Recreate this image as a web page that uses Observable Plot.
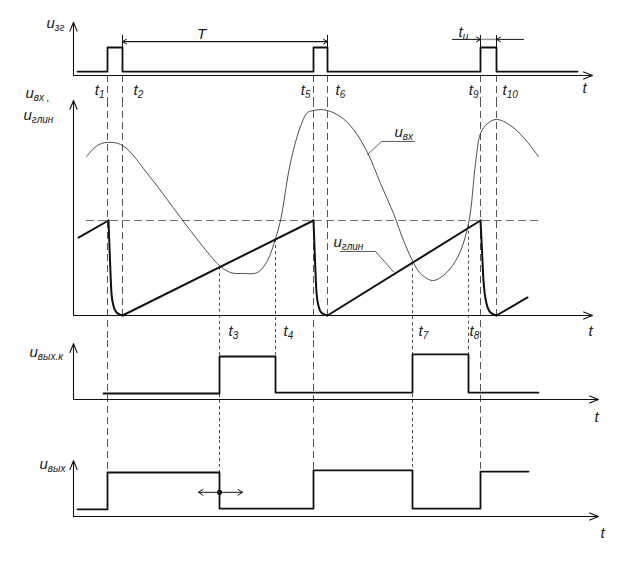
<!DOCTYPE html>
<html><head><meta charset="utf-8">
<script src="https://cdn.jsdelivr.net/npm/d3@7"></script>
<script src="https://cdn.jsdelivr.net/npm/@observablehq/plot@0.6"></script>
<style>
body{margin:0;background:#fff;}
#chart{width:643px;}
#chart svg{display:block;overflow:visible;}
</style></head><body><div id="chart"></div>
<script>
// ---------- data (time in arbitrary units, voltages in panel units) ----------
const eventNames = ["t1","t2","t3","t4","t5","t6","t7","t8","t9","t10"];
const eventTimes = [34, 49, 146, 202, 240, 254, 339, 395, 407, 423];

// u_зг : clock pulses
const zgTimes  = [4, 34, 49, 240, 254, 407, 423, 504];
const zgLevels = [0.14, 1, 0.14, 1, 0.14, 1, 0.14, 0.14];

// u_вх : input signal
const uvxTimes  = [13,24,34,49,77,107,127,146,157,170,184,194,202,207,217,227,234,240,247,254,267,280,294,307,320,330,339,347,359,370,384,395,402,407,414,423,437,450,465];
const uvxLevels = [8.37,8.95,9.11,8.95,7.26,5.16,3.79,2.63,2.26,2.21,2.26,2.89,4.05,5.0,8.05,9.95,10.68,10.79,10.84,10.79,10.47,9.79,8.58,6.95,5.37,3.95,2.89,2.21,1.84,2.11,3.05,4.84,8.0,9.58,10.1,10.32,10.0,9.37,8.37];

// u_глин : sawtooth (linear ramps) and its fast flyback segments
const rampSegTimes  = [[5,35],[49,240],[254,407],[423,454]];
const rampSegLevels = [[4.1,5],[0,5],[0,5],[0,0.95]];
const dropTimes  = [[35,36.5,38,40,43,49],[240,241.5,243,245,248,254],[407,408.5,410,413,417,423]];
const dropLevels = [[5,2.9,1.16,0.5,0.16,0],[5,2.9,1.2,0.5,0.15,0],[5,3.4,1.84,0.63,0.16,0]];
const threshold = 5;

// u_вых.к : comparator output
const kTimes  = [30, 146, 202, 339, 395, 465];
const kLevels = [0.14, 1, 0.16, 1.05, 0.16, 0.16];

// u_вых : output
const oTimes  = [4, 34, 146, 240, 339, 407, 455];
const oLevels = [0.16, 1, 0.18, 1.05, 0.18, 1.02, 1.02];

// ---------- layout ----------
const FONT = "Liberation Sans, Arial, sans-serif";
const X = {domain: [0, 570], range: [73, 643]};
const panels = [
  {height: 100, y: {domain: [0, 1], range: [75, 47]}},
  {height: 240, y: {domain: [0, 5], range: [215, 120]}},
  {height: 100, y: {domain: [0, 1], range: [59, 16]}},
  {height: 127, y: {domain: [0, 1], range: [76, 32]}}
];
const T = Object.fromEntries(eventNames.map((n, i) => [n, eventTimes[i]]));

// vertical guide lines: which panel/level they start and end at
const lineSpans = [
  {name: "t1", from: [0, 0], to: [3, 1.0], kind: "long"},
  {name: "t2", from: [0, 0], to: [1, 0], kind: "long"},
  {name: "t3", from: [1, 2.54], to: [3, 1.0], kind: "short"},
  {name: "t4", from: [1, 4.0], to: [2, 1.0], kind: "short"},
  {name: "t5", from: [0, 0], to: [3, 1.05], kind: "long"},
  {name: "t6", from: [0, 0], to: [1, 0], kind: "long"},
  {name: "t7", from: [1, 2.78], to: [3, 1.05], kind: "short"},
  {name: "t8", from: [1, 4.75], to: [2, 1.05], kind: "short"},
  {name: "t9", from: [0, 0], to: [3, 1.02], kind: "long"},
  {name: "t10", from: [0, 0], to: [1, 0], kind: "long"}
];

function spanMarks(i) {
  const sc = d3.scaleLinear(panels[i].y.domain, panels[i].y.range);
  const top = sc.invert(0), bot = sc.invert(panels[i].height);
  const rows = [];
  for (const s of lineSpans) {
    if (i < s.from[0] || i > s.to[0]) continue;
    rows.push({t: T[s.name], y1: i === s.from[0] ? s.from[1] : top, y2: i === s.to[0] ? s.to[1] : bot, kind: s.kind});
  }
  return [
    Plot.ruleX(rows.filter(r => r.kind === "long"), {x: "t", y1: "y1", y2: "y2", stroke: "#555", strokeWidth: 1, strokeDasharray: "7,4"}),
    Plot.ruleX(rows.filter(r => r.kind === "short"), {x: "t", y1: "y1", y2: "y2", stroke: "#222", strokeWidth: 0.8, strokeDasharray: "3,3"})
  ];
}
function axes(xEnd, yTop) {
  return Plot.arrow([{x1: 0, y1: 0, x2: xEnd, y2: 0}, {x1: 0, y1: 0, x2: 0, y2: yTop}],
    {x1: "x1", y1: "y1", x2: "x2", y2: "y2", stroke: "#111", strokeWidth: 1.1, headLength: 13, headAngle: 44});
}
function label(rows, opts = {}) {
  return Plot.text(rows, {x: "t", y: "v", text: "s", fontFamily: FONT, fontStyle: "italic", fontSize: 15,
    fill: "#222", lineAnchor: "bottom", textAnchor: "start", ...opts});
}
const labelDx = {t1: -3, t2: 11, t3: 9, t4: 8, t5: -3, t6: 8, t7: 6, t8: 1, t9: -2, t10: 6};
function eventLabels(names, v) {
  const left = names.filter(n => labelDx[n] < 0), right = names.filter(n => labelDx[n] >= 0);
  return [left, right].map((ns, k) => Plot.text(ns, {
    x: n => T[n], y: () => v, text: n => "t_" + n.slice(1),
    dx: n => 0, fontFamily: FONT, fontStyle: "italic", fontSize: 15, fill: "#222",
    lineAnchor: "bottom", textAnchor: k === 0 ? "end" : "start"
  }));
}
function stepRows(ts, vs) { return ts.map((t, i) => ({t, v: vs[i]})); }
function segRows(tss, vss) { return tss.flatMap((ts, k) => ts.map((t, j) => ({t, v: vss[k][j], k}))); }

function panelPlot(i, marks) {
  return Plot.plot({width: 643, height: panels[i].height, margin: 0, x: {...X, axis: null}, y: {...panels[i].y, axis: null},
    style: {background: "#fff", overflow: "visible"}, marks});
}

// apply dx offsets to event labels after render (Plot dx is constant per mark)
function evLabelMark(names, v) {
  return names.map(n => Plot.text([n], {x: () => T[n], y: () => v, text: () => "t_" + n.slice(1), dx: labelDx[n],
    fontFamily: FONT, fontStyle: "italic", fontSize: 15, fill: "#222", lineAnchor: "bottom",
    textAnchor: labelDx[n] < 0 ? "end" : "start"}));
}

// ---------- panel A: u_зг ----------
const pA = panelPlot(0, [
  ...spanMarks(0),
  axes(519, 1.9),
  Plot.line(stepRows(zgTimes, zgLevels), {x: "t", y: "v", curve: "step-after", stroke: "#111", strokeWidth: 1.8}),
  Plot.ruleX(["t2", "t6", "t9", "t10"], {x: n => T[n], y1: () => 1, y2: () => 1.43, stroke: "#111", strokeWidth: 1}),
  Plot.arrow([{a: T.t6, b: T.t2}, {a: T.t2, b: T.t6}], {x1: "a", x2: "b", y1: () => 1.21, y2: () => 1.21, stroke: "#111", strokeWidth: 1, headLength: 7, headAngle: 60}),
  Plot.ruleY([1.29], {x1: T.t9, x2: T.t10, stroke: "#999", strokeWidth: 1.5}),
  Plot.arrow([{a: T.t9 - 28, b: T.t9}, {a: T.t10 + 27, b: T.t10}], {x1: "a", x2: "b", y1: () => 1.29, y2: () => 1.29, stroke: "#111", strokeWidth: 1, headLength: 7, headAngle: 60}),
  label([{t: -27, v: 1.68, s: "u_зг"}]),
  label([{t: 128, v: 1.32, s: "T"}], {textAnchor: "middle"}),
  label([{t: 385, v: 1.36, s: "t_и"}]),
  ...evLabelMark(["t1", "t2", "t5", "t6", "t9", "t10"], -0.68),
  label([{t: 509, v: -0.64, s: "t"}])
]);

// ---------- panel B: u_вх, u_глин ----------
const pB = panelPlot(1, [
  ...spanMarks(1),
  Plot.ruleY([threshold], {x1: 13, x2: 465, stroke: "#777", strokeWidth: 1, strokeDasharray: "8,4"}),
  axes(519, 11.32),
  Plot.line(stepRows(uvxTimes, uvxLevels), {x: "t", y: "v", curve: "catmull-rom", stroke: "#222", strokeWidth: 0.8}),
  Plot.line(segRows(rampSegTimes, rampSegLevels), {x: "t", y: "v", z: "k", stroke: "#111", strokeWidth: 2}),
  Plot.line(segRows(dropTimes, dropLevels), {x: "t", y: "v", z: "k", curve: "monotone-x", stroke: "#111", strokeWidth: 2}),
  Plot.line([{t: 294, v: 8.47}, {t: 308, v: 9.16}, {t: 341, v: 9.16}], {x: "t", y: "v", stroke: "#333", strokeWidth: 0.8}),
  Plot.line([{t: 320, v: 2.3}, {t: 302, v: 3.37}, {t: 267, v: 3.37}], {x: "t", y: "v", stroke: "#333", strokeWidth: 0.8}),
  label([{t: -48, v: 11.47, s: "u_вх ,"}, {t: -50, v: 10.3, s: "u_глин"}]),
  label([{t: 321, v: 9.37, s: "u_вх"}, {t: 260, v: 3.58, s: "u_глин"}]),
  ...evLabelMark(["t3", "t4", "t7", "t8"], -1.1),
  label([{t: 515, v: -1.1, s: "t"}])
]);

// ---------- panel C: u_вых.к ----------
const pC = panelPlot(2, [
  ...spanMarks(2),
  axes(525, 1.3),
  Plot.line(stepRows(kTimes, kLevels), {x: "t", y: "v", curve: "step-after", stroke: "#111", strokeWidth: 1.8}),
  label([{t: -44, v: 0.98, s: "u_вых.к"}]),
  label([{t: 521, v: -0.53, s: "t"}])
]);

// ---------- panel D: u_вых ----------
const pD = panelPlot(3, [
  ...spanMarks(3),
  axes(525, 1.27),
  Plot.line(stepRows(oTimes, oLevels), {x: "t", y: "v", curve: "step-after", stroke: "#111", strokeWidth: 1.8}),
  Plot.arrow([{b: T.t3 - 21}, {b: T.t3 + 23}], {x1: () => T.t3, x2: "b", y1: () => 0.55, y2: () => 0.55, stroke: "#111", strokeWidth: 1, headLength: 8, headAngle: 66}),
  Plot.dot([T.t3], {x: d => d, y: () => 0.55, r: 2.6, fill: "#111", stroke: "none"}),
  label([{t: -34, v: 1.07, s: "u_вых"}]),
  label([{t: 527, v: -0.48, s: "t"}])
]);

const root = document.getElementById("chart");
for (const p of [pA, pB, pC, pD]) root.appendChild(p);

// subscripts: "a_b" -> a<tspan small lowered>b</tspan>
root.querySelectorAll("text").forEach(el => {
  const s = el.textContent;
  const i = s.indexOf("_");
  if (i < 0) return;
  while (el.firstChild) el.removeChild(el.firstChild);
  const ns = "http://www.w3.org/2000/svg";
  const a = document.createElementNS(ns, "tspan"); a.textContent = s.slice(0, i);
  const b = document.createElementNS(ns, "tspan"); b.textContent = s.slice(i + 1);
  b.setAttribute("font-size", "10"); b.setAttribute("dy", "3");
  el.appendChild(a); el.appendChild(b);
});
</script></body></html>
